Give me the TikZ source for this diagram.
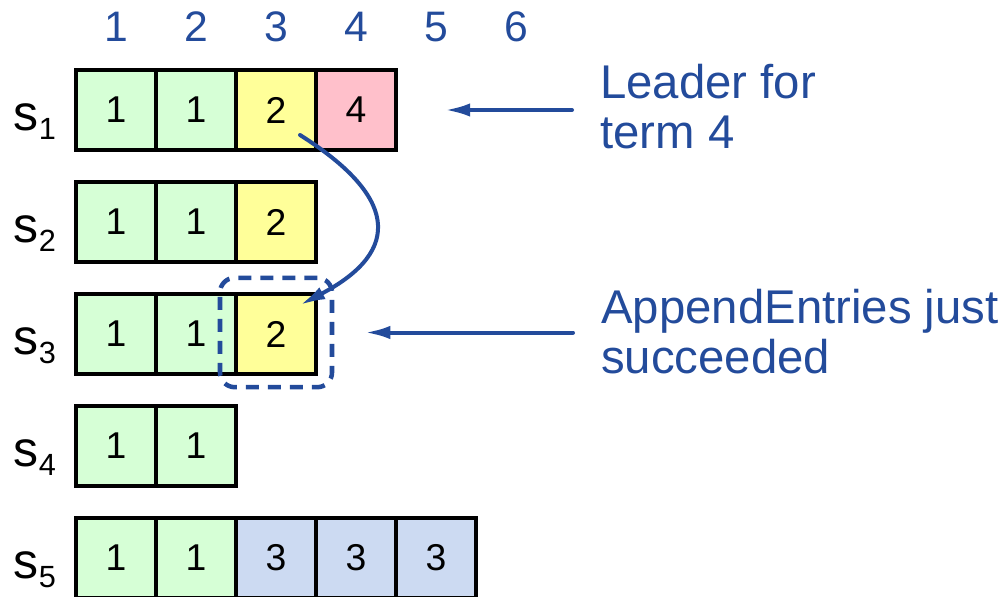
\documentclass[tikz,border=0pt]{standalone}
\usepackage{fontspec}
\setmainfont{Liberation Sans}
\usetikzlibrary{arrows.meta}
\definecolor{inkblue}{RGB}{35,75,155}
\definecolor{termone}{RGB}{214,255,214}
\definecolor{termtwo}{RGB}{255,255,153}
\definecolor{termthree}{RGB}{204,218,242}
\definecolor{termfour}{RGB}{255,192,203}
\begin{document}
\begin{tikzpicture}[x=0.75pt,y=-0.75pt,
  cell/.style={rectangle,draw,line width=3.2pt,minimum width=60pt,minimum height=60pt,inner sep=0pt,font=\fontsize{28}{28}\selectfont},
  idx/.style={inner sep=0pt,text=inkblue,font=\fontsize{32}{32}\selectfont},
  srv/.style={inner sep=0pt,anchor=base west,font=\fontsize{37.5}{37.5}\selectfont},
  note/.style={inner sep=0pt,anchor=north west,align=left,text=inkblue,font=\fontsize{35.5}{37.5}\selectfont},
  arr/.style={draw=inkblue,line width=3pt,line cap=round,-{Latex[length=19pt,width=10pt]}},
  dashbox/.style={rectangle,draw=inkblue,line width=3.4pt,dash pattern=on 9.75pt off 6.75pt,rounded corners=11pt,minimum width=84pt,minimum height=82pt}]
  \useasboundingbox (0,0) rectangle (1006,596);
  \node[idx] (i1) at (116,27) {1};
  \node[idx] (i2) at (196,27) {2};
  \node[idx] (i3) at (276,27) {3};
  \node[idx] (i4) at (356,27) {4};
  \node[idx] (i5) at (436,27) {5};
  \node[idx] (i6) at (516,27) {6};
  \node[srv] (s1) at (13.5,130) {s\raisebox{-7pt}{\fontsize{23}{23}\selectfont 1}};
  \node[srv] (s2) at (13.5,242) {s\raisebox{-7pt}{\fontsize{23}{23}\selectfont 2}};
  \node[srv] (s3) at (13.5,354) {s\raisebox{-7pt}{\fontsize{23}{23}\selectfont 3}};
  \node[srv] (s4) at (13.5,466) {s\raisebox{-7pt}{\fontsize{23}{23}\selectfont 4}};
  \node[srv] (s5) at (13.5,578) {s\raisebox{-7pt}{\fontsize{23}{23}\selectfont 5}};
  \node[cell,fill=termone] (r11) at (116,110) {1};
  \node[cell,fill=termone] (r12) at (196,110) {1};
  \node[cell,fill=termtwo] (r13) at (276,110) {2};
  \node[cell,fill=termfour] (r14) at (356,110) {4};
  \node[cell,fill=termone] (r21) at (116,222) {1};
  \node[cell,fill=termone] (r22) at (196,222) {1};
  \node[cell,fill=termtwo] (r23) at (276,222) {2};
  \node[cell,fill=termone] (r31) at (116,334) {1};
  \node[cell,fill=termone] (r32) at (196,334) {1};
  \node[cell,fill=termtwo] (r33) at (276,334) {2};
  \node[cell,fill=termone] (r41) at (116,446) {1};
  \node[cell,fill=termone] (r42) at (196,446) {1};
  \node[cell,fill=termone] (r51) at (116,558) {1};
  \node[cell,fill=termone] (r52) at (196,558) {1};
  \node[cell,fill=termthree] (r53) at (276,558) {3};
  \node[cell,fill=termthree] (r54) at (356,558) {3};
  \node[cell,fill=termthree] (r55) at (436,558) {3};
  \node[dashbox] (box) at (276,332.5) {};
  \node[note] (lead) at (600,64) {Leader for\\term 4};
  \node[note] (app) at (601,289) {AppendEntries just\\succeeded};
  \draw[arr,shorten <=21pt,shorten >=35pt] (lead.west |- r14.east) -- (r14.east);
  \draw[arr,shorten <=21pt,shorten >=23pt] (app.west |- box.east) -- (box.east);
  \draw[arr] ([shift={(24,25)}]r13.center) .. controls +(95,60) and +(105,-55) .. ([shift={(24,-29)}]r33.center);
\end{tikzpicture}
\end{document}
